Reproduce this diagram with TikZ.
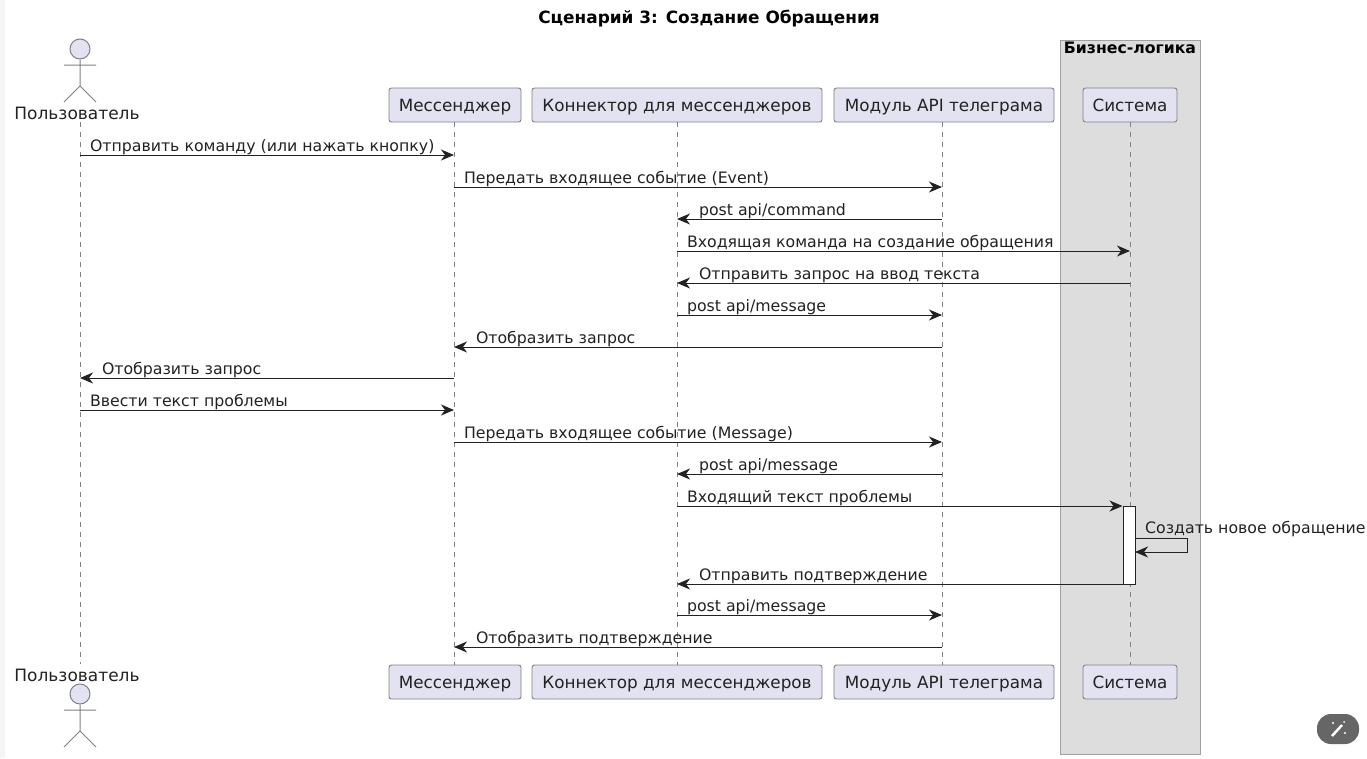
\documentclass[tikz,border=0pt]{standalone}
\usepackage{fontspec}
\setmainfont{DejaVu Sans}
\usetikzlibrary{arrows.meta,calc}
\definecolor{ink}{HTML}{222222}
\definecolor{edge}{HTML}{808088}
\definecolor{partfill}{HTML}{E2E2F0}
\definecolor{groupfill}{HTML}{DDDDDD}
\definecolor{groupedge}{HTML}{A0A0A0}
\newcommand{\msgR}[4]{%
  \coordinate (p#3) at (0,#3);
  \draw[msgline] (#1 |- p#3) -- (#2 |- p#3) node[msglabel, at start, xshift=9.5pt] {#4};}
\newcommand{\msgL}[4]{%
  \coordinate (p#3) at (0,#3);
  \draw[msgline] (#1 |- p#3) -- (#2 |- p#3) node[msglabel, at end, xshift=21.5pt] {#4};}
\begin{document}
\begin{tikzpicture}[x=1pt,y=-1pt,
  part/.style={draw=edge,fill=partfill,rounded corners=2.5pt,line width=.9pt,minimum height=34pt,inner sep=0pt,text height=13pt,text depth=1pt,font=\fontsize{16.8}{18}\selectfont,text=ink},
  actorline/.style={draw=edge,line width=1pt},
  lifeline/.style={draw=edge,line width=.9pt,dash pattern=on 5pt off 5pt},
  msgline/.style={draw=ink,line width=1pt,-{Stealth[length=13pt,width=11pt,inset=4pt]}},
  msglabel/.style={anchor=base west,inner sep=0pt,yshift=4pt,font=\fontsize{15.75}{18}\selectfont,text=ink},
  actorlabel/.style={inner sep=0pt,font=\fontsize{17}{19}\selectfont,text=ink}]
\useasboundingbox (0,0) rectangle (1367,758);
\fill[white] (0,0) rectangle (1367,758);
\fill[black!4] (0,0) rectangle (5,758);
% group box
\node[draw=groupedge,fill=groupfill,line width=1pt,minimum width=140pt,minimum height=714pt,inner sep=0pt,anchor=north west] (grp) at (1060,40) {};
\node[inner sep=0pt,font=\bfseries\fontsize{15.7}{18}\selectfont,text=black] (grplabel) at (1130,48) {Бизнес-логика};
\node[inner sep=0pt,font=\bfseries\fontsize{16.9}{19}\selectfont,text=black] (title) at (709,19) {Сценарий 3: Создание Обращения};
% top participants
\node[part,minimum width=132pt] (mt) at (455,105) {Мессенджер};
\node[part,minimum width=290pt] (ct) at (677,105) {Коннектор для мессенджеров};
\node[part,minimum width=220pt] (at) at (944,105) {Модуль API телеграма};
\node[part,minimum width=94pt] (st) at (1130,105) {Система};
% bottom participants
\node[part,minimum width=132pt] (mb) at (455,682) {Мессенджер};
\node[part,minimum width=290pt] (cb) at (677,682) {Коннектор для мессенджеров};
\node[part,minimum width=220pt] (ab) at (944,682) {Модуль API телеграма};
\node[part,minimum width=94pt] (sb) at (1130,682) {Система};
% actors
\node[actorlabel] (ut) at (77,113) {Пользователь};
\node[actorlabel] (ub) at (77,675) {Пользователь};
\node[circle,draw=edge,fill=partfill,line width=1pt,minimum size=20pt,inner sep=0pt] (headt) at (80,49) {};
\node[circle,draw=edge,fill=partfill,line width=1pt,minimum size=20pt,inner sep=0pt] (headb) at (80,694) {};
\coordinate (hipt) at (80,86);
\coordinate (hipb) at (80,731);
\draw[actorline] (headt) -- (hipt) (64,65) -- (96,65) (64,102) -- (hipt) -- (96,102);
\draw[actorline] (headb) -- (hipb) (64,710) -- (96,710) (64,747) -- (hipb) -- (96,747);
% lifelines
\coordinate (uA) at (80,122);
\coordinate (uB) at (80,664);
\coordinate (mA) at (454,122);
\coordinate (mB) at (454,665);
\coordinate (cA) at (677,122);
\coordinate (cB) at (677,665);
\coordinate (aA) at (942,122);
\coordinate (aB) at (942,665);
\coordinate (sA) at (1130,122);
\coordinate (sB) at (1130,665);
\draw[lifeline] (uA) -- (uB);
\draw[lifeline] (mA) -- (mB);
\draw[lifeline] (cA) -- (cB);
\draw[lifeline] (aA) -- (aB);
\draw[lifeline] (sA) -- (sB);
% activation
\node[draw=ink,fill=white,line width=1pt,minimum width=12pt,minimum height=78pt,inner sep=0pt] (act) at (1129,545) {};
% messages
\msgR{uA}{mA}{155}{Отправить команду (или нажать кнопку)}
\msgR{mA}{aA}{187}{Передать входящее событие (Event)}
\msgL{aA}{cA}{219}{post api/command}
\msgR{cA}{sA}{251}{Входящая команда на создание обращения}
\msgL{sA}{cA}{283}{Отправить запрос на ввод текста}
\msgR{cA}{aA}{315}{post api/message}
\msgL{aA}{mA}{347}{Отобразить запрос}
\msgL{mA}{uA}{378}{Отобразить запрос}
\msgR{uA}{mA}{410}{Ввести текст проблемы}
\msgR{mA}{aA}{442}{Передать входящее событие (Message)}
\msgL{aA}{cA}{474}{post api/message}
\msgR{cA}{act.west}{506}{Входящий текст проблемы}
\msgL{act.west}{cA}{584}{Отправить подтверждение}
\msgR{cA}{aA}{615}{post api/message}
\msgL{aA}{mA}{647}{Отобразить подтверждение}
% self message
\coordinate (selfA) at (1135,538);
\coordinate (selfB) at (1135,552);
\draw[msgline] (selfA) -- (1187,538) -- (1187,552) -- (selfB);
\node[msglabel] (selflabel) at (1145,537) {Создать новое обращение};
% floating button
\node[fill=black!60,rounded corners=14pt,minimum width=42pt,minimum height=30pt,inner sep=0pt] (btn) at (1338,729) {};
\draw[white,line width=2.5pt] (1332,736) -- (1342,725);
\fill[white] (1333,723) circle (1.2pt) (1345,733) circle (1.2pt) (1344,722) circle (1pt);
\end{tikzpicture}
\end{document}
